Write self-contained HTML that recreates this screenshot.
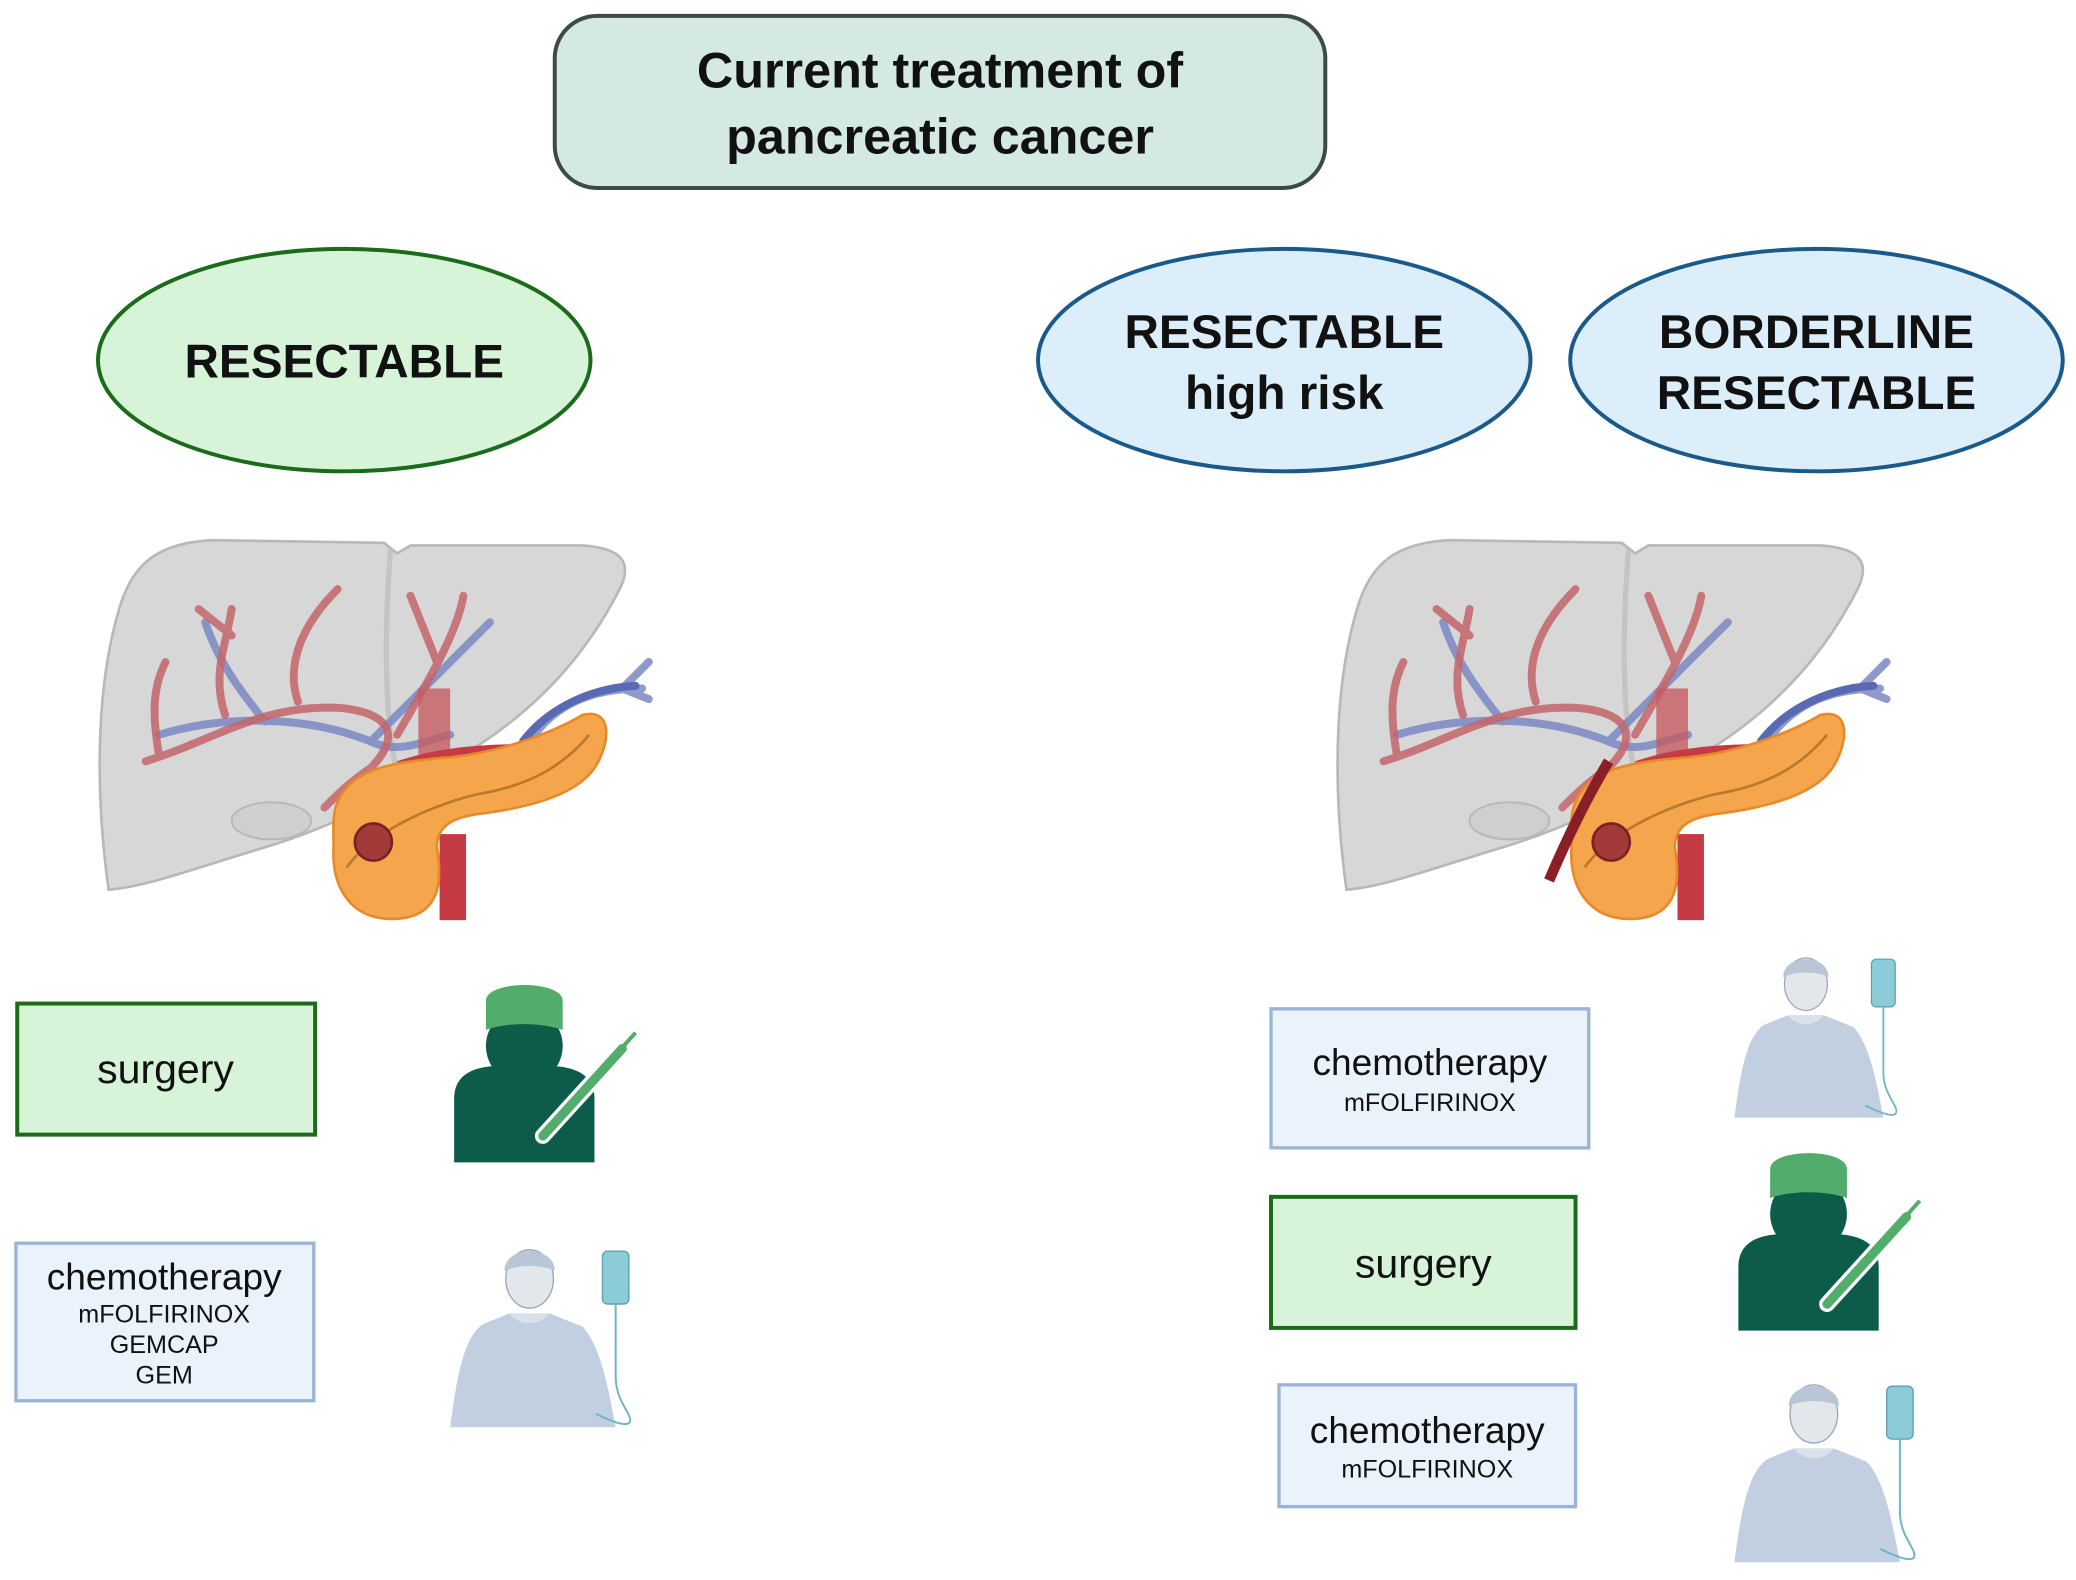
<!DOCTYPE html>
<html><head><meta charset="utf-8"><style>
html,body{margin:0;padding:0;background:#fff;}
svg{display:block;}
text{font-family:"Liberation Sans",sans-serif;}
</style></head><body>
<svg width="2076" height="1580" viewBox="0 0 1568 1193.4" xmlns="http://www.w3.org/2000/svg">
<defs>
<g id="liver">
  <path d="M82,672 C72,600 72,520 90,460 C100,425 120,410 160,408 L290,410 L300,418 L310,412 L440,412 C470,414 478,425 468,445 C440,500 400,540 350,570 C300,600 250,625 200,640 C150,655 110,670 82,672 Z" fill="#d7d7d7" stroke="#b8b8b8" stroke-width="2"/>
  <path d="M295,415 C290,480 290,540 300,585" stroke="#c4c4c4" stroke-width="4" fill="none"/>
  <ellipse cx="205" cy="620" rx="30" ry="14" fill="#cfcfcf" stroke="#b8b8b8" stroke-width="1.5"/>
  <g fill="none" stroke="#7b88c4" stroke-width="6" stroke-linecap="round" opacity="0.85">
    <path d="M120,555 C170,540 230,540 280,560 C300,540 330,510 370,470"/>
    <path d="M200,545 C180,520 165,500 155,470"/>
    <path d="M280,560 C300,570 320,560 340,555"/>
    <path d="M400,560 C420,530 450,520 485,520 M470,520 L490,500 M470,520 L490,528"/>
    <path d="M345,640 L345,690" stroke="#3e4fa8"/>
    <path d="M395,560 C410,540 440,520 480,518" stroke="#3e4fa8"/>
  </g>
  <g fill="none" stroke="#c4666a" stroke-width="6" stroke-linecap="round" opacity="0.85">
    <path d="M110,575 C160,560 200,530 260,535 C300,540 300,560 280,580 C265,590 255,600 245,610"/>
    <path d="M170,540 C160,510 170,490 175,460 M175,480 L150,460"/>
    <path d="M225,530 C215,500 230,470 255,445"/>
    <path d="M300,555 C320,520 345,480 350,450 M330,500 L310,450"/>
    <path d="M120,570 C115,540 115,520 125,500"/>
  </g>
  <rect x="316" y="520" width="24" height="60" fill="#c65c62" opacity="0.8"/>
  <path d="M300,575 C330,565 360,562 400,562 L400,580 L300,590 Z" fill="#c63a44"/>
  <rect x="332" y="630" width="20" height="65" fill="#c63a44"/>
  <path d="M258,600 C270,580 300,575 340,572 C380,568 420,552 440,540 C460,535 462,555 452,575 C440,600 400,610 360,615 C340,618 330,625 330,640 C335,670 330,692 300,694 C265,696 250,670 252,640 C252,625 250,612 258,600 Z" fill="#f5a54c" stroke="#e88a2a" stroke-width="2"/>
  <path d="M262,655 C280,630 320,610 360,600 C390,595 420,585 445,555" stroke="#b8792c" stroke-width="2" fill="none"/>
  <circle cx="282" cy="636" r="14" fill="#a33a3a" stroke="#7a2222" stroke-width="2"/>
</g>
<g id="surgeon">
  <path d="M343,878 L343,830 C343,810 360,805 380,805 L412,805 C435,805 449,812 449,830 L449,878 Z" fill="#0d5c4a"/>
  <path d="M372,804 C378,820 414,820 420,804" fill="#fff"/>
  <circle cx="396" cy="790" r="29" fill="#0d5c4a"/>
  <path d="M367,778 L367,756 C367,740 425,740 425,756 L425,778 C410,772 382,772 367,778 Z" fill="#52ad6c"/>
  <path d="M410,858 L470,792" stroke="#fff" stroke-width="12" stroke-linecap="round"/>
  <path d="M410,858 L470,792" stroke="#52ad6c" stroke-width="7" stroke-linecap="round"/>
  <path d="M462,800 L480,780" stroke="#52ad6c" stroke-width="3"/>
</g>
<g id="patient">
  <path d="M340,1078 C345,1040 350,1010 365,1000 L385,992 L415,992 L440,1002 C452,1015 458,1040 465,1078 Z" fill="#c2cfe1"/>
  <path d="M385,992 C392,1002 408,1002 415,992" fill="#d9e1ea"/>
  <ellipse cx="400" cy="966" rx="18" ry="22" fill="#e3e7ec" stroke="#9aa6b6" stroke-width="1"/>
  <path d="M381,960 C381,940 419,940 419,960 C410,955 390,955 381,960 Z" fill="#b8c6d6"/>
  <rect x="455" y="945" width="20" height="40" rx="4" fill="#8ccbd8" stroke="#5aa0b0" stroke-width="1"/>
  <path d="M465,985 L465,1040 C465,1060 480,1070 475,1075 C470,1078 455,1070 450,1068" stroke="#6fb6c4" stroke-width="1.5" fill="none"/>
</g>
</defs>

<rect x="419" y="12" width="582" height="130" rx="32" fill="#d4e8e4" stroke="#3c4a4a" stroke-width="3"/>
<text x="710" y="66" text-anchor="middle" font-size="38" font-weight="bold" fill="#111">Current treatment of</text>
<text x="710" y="116" text-anchor="middle" font-size="38" font-weight="bold" fill="#111">pancreatic cancer</text>

<ellipse cx="260" cy="272" rx="186" ry="84" fill="#d8f4d8" stroke="#1a6b1a" stroke-width="3"/>
<text x="260" y="285" text-anchor="middle" font-size="36" font-weight="bold" fill="#111">RESECTABLE</text>
<ellipse cx="970" cy="272" rx="186" ry="84" fill="#dbeefa" stroke="#1a5a8a" stroke-width="3"/>
<text x="970" y="263" text-anchor="middle" font-size="36" font-weight="bold" fill="#111">RESECTABLE</text>
<text x="970" y="309" text-anchor="middle" font-size="36" font-weight="bold" fill="#111">high risk</text>
<ellipse cx="1372" cy="272" rx="186" ry="84" fill="#dbeefa" stroke="#1a5a8a" stroke-width="3"/>
<text x="1372" y="263" text-anchor="middle" font-size="36" font-weight="bold" fill="#111">BORDERLINE</text>
<text x="1372" y="309" text-anchor="middle" font-size="36" font-weight="bold" fill="#111">RESECTABLE</text>

<use href="#liver"/>
<use href="#liver" transform="translate(935,0)"/>
<path d="M1170,665 C1185,630 1200,600 1215,575" stroke="#8a1f25" stroke-width="8" fill="none"/>

<rect x="13" y="758" width="225" height="99" fill="#d8f4d8" stroke="#1a6b1a" stroke-width="3"/>
<text x="125" y="818" text-anchor="middle" font-size="31" fill="#111">surgery</text>
<use href="#surgeon"/>

<rect x="12" y="939" width="225" height="119" fill="#eaf2fc" stroke="#9ab4d8" stroke-width="2.5"/>
<text x="124" y="974" text-anchor="middle" font-size="28" fill="#111">chemotherapy</text>
<text x="124" y="999" text-anchor="middle" font-size="19" fill="#111">mFOLFIRINOX</text>
<text x="124" y="1022" text-anchor="middle" font-size="19" fill="#111">GEMCAP</text>
<text x="124" y="1045" text-anchor="middle" font-size="19" fill="#111">GEM</text>
<use href="#patient"/>

<rect x="960" y="762" width="240" height="105" fill="#eaf2fc" stroke="#9ab4d8" stroke-width="2.5"/>
<text x="1080" y="812" text-anchor="middle" font-size="28" fill="#111">chemotherapy</text>
<text x="1080" y="839" text-anchor="middle" font-size="19" fill="#111">mFOLFIRINOX</text>
<use href="#patient" transform="translate(1310,720) scale(0.9) translate(-340,-940)"/>

<rect x="960" y="904" width="230" height="99" fill="#d8f4d8" stroke="#1a6b1a" stroke-width="3"/>
<text x="1075" y="965" text-anchor="middle" font-size="31" fill="#111">surgery</text>
<use href="#surgeon" transform="translate(970,127)"/>

<rect x="966" y="1046" width="224" height="92" fill="#eaf2fc" stroke="#9ab4d8" stroke-width="2.5"/>
<text x="1078" y="1090" text-anchor="middle" font-size="28" fill="#111">chemotherapy</text>
<text x="1078" y="1116" text-anchor="middle" font-size="19" fill="#111">mFOLFIRINOX</text>
<use href="#patient" transform="translate(970,102)"/>
</svg>
</body></html>
